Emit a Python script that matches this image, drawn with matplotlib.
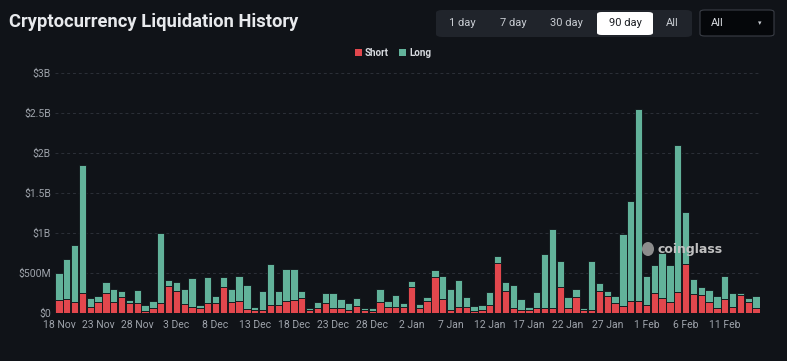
import matplotlib
matplotlib.use("Agg")
import matplotlib.pyplot as plt
from matplotlib.patches import FancyBboxPatch, Rectangle, Ellipse
import numpy as np

# ---- data (USD billions) ----
total = [0.50, 0.68, 0.855, 1.86, 0.19, 0.215, 0.39, 0.30, 0.28, 0.167,
         0.29, 0.11, 0.16, 1.00, 0.42, 0.39, 0.30, 0.44, 0.11, 0.45,
         0.22, 0.45, 0.31, 0.47, 0.35, 0.075, 0.28, 0.615, 0.275, 0.56,
         0.56, 0.28, 0.067, 0.14, 0.26, 0.26, 0.18, 0.133, 0.196, 0.07,
         0.0625, 0.30, 0.154, 0.23, 0.125, 0.40, 0.12, 0.20, 0.545, 0.467,
         0.30, 0.42, 0.21, 0.088, 0.105, 0.27, 0.715, 0.39, 0.35, 0.175,
         0.075, 0.27, 0.74, 1.05, 0.65, 0.20, 0.30, 0.07, 0.66, 0.375,
         0.283, 0.217, 0.99, 1.40, 2.55, 0.467, 0.60, 0.75, 0.60, 2.11,
         1.27, 0.425, 0.325, 0.29, 0.217, 0.467, 0.25, 0.26, 0.19, 0.22]
short = [0.167, 0.175, 0.14, 0.25, 0.075, 0.145, 0.26, 0.14, 0.20, 0.125,
         0.125, 0.033, 0.07, 0.125, 0.34, 0.28, 0.115, 0.08, 0.0625, 0.135,
         0.125, 0.325, 0.145, 0.155, 0.054, 0.04, 0.04, 0.104, 0.11, 0.156,
         0.167, 0.19, 0.04, 0.067, 0.125, 0.067, 0.07, 0.04, 0.092, 0.04,
         0.033, 0.14, 0.075, 0.075, 0.075, 0.33, 0.066, 0.154, 0.45, 0.18,
         0.04, 0.075, 0.075, 0.033, 0.04, 0.11, 0.625, 0.285, 0.068, 0.045,
         0.04, 0.0625, 0.0625, 0.0625, 0.333, 0.07, 0.20, 0.04, 0.04, 0.283,
         0.22, 0.133, 0.092, 0.15, 0.15, 0.11, 0.25, 0.196, 0.14, 0.27,
         0.62, 0.24, 0.23, 0.14, 0.07, 0.175, 0.075, 0.225, 0.146, 0.0625]
long_ = [t - s for t, s in zip(total, short)]
x_labels = ["18 Nov", "23 Nov", "28 Nov", "3 Dec", "8 Dec", "13 Dec", "18 Dec",
            "23 Dec", "28 Dec", "2 Jan", "7 Jan", "12 Jan", "17 Jan", "22 Jan",
            "27 Jan", "1 Feb", "6 Feb", "11 Feb"]
y_ticks = [0, 0.5, 1.0, 1.5, 2.0, 2.5, 3.0]
y_labels = ["$0", "$500M", "$1B", "$1.5B", "$2B", "$2.5B", "$3B"]

BG = "#101318"
RED = "#e2474d"
GREEN = "#62b29a"
TXT = "#9ea3ab"
NARROW = ["Liberation Sans Narrow", "Roboto", "DejaVu Sans"]

W, H = 787, 361
fig = plt.figure(figsize=(W / 100, H / 100), dpi=100, facecolor=BG)

def fx(px):
    return px / W

def fy(py):
    return 1 - py / H

# ---- main axes ----
left, right, top, bottom = 55, 760, 73.3, 313.3
ax = fig.add_axes([fx(left), fy(bottom), fx(right - left), (bottom - top) / H])
ax.set_facecolor(BG)
idx = np.arange(len(total))
ax.bar(idx, short, width=0.92, color=RED, edgecolor=BG, linewidth=0.6, zorder=3)
ax.bar(idx, long_, bottom=short, width=0.92, color=GREEN, edgecolor=BG,
       linewidth=0.6, zorder=3)
ax.set_xlim(-0.5, len(total) - 0.5)
ax.set_ylim(0, 3.0)
ax.set_yticks(y_ticks)
ax.set_yticklabels(y_labels, family=NARROW, fontsize=7.5)
ax.set_xticks(np.arange(0, len(total), 5)[:len(x_labels)])
ax.set_xticklabels(x_labels, family=NARROW, fontsize=7.5)
ax.tick_params(axis="both", length=0, colors=TXT)
ax.tick_params(axis="y", pad=3)
ax.tick_params(axis="x", pad=5)
ax.grid(axis="y", color="#2c3038", linestyle=(0, (3, 3)), linewidth=0.7, zorder=0)
for s in ax.spines.values():
    s.set_visible(False)

# ---- title ----
fig.text(fx(9), fy(22), "Cryptocurrency Liquidation History", color="#e8eaed",
         fontsize=13.2, fontweight="bold", family=NARROW, va="center", ha="left")

# ---- button group ----
fig.patches.append(FancyBboxPatch((fx(436), fy(37)), fx(256), (27) / H,
                                  boxstyle="round,pad=0,rounding_size=0.008",
                                  transform=fig.transFigure, facecolor="#20242b",
                                  edgecolor="none"))
fig.patches.append(FancyBboxPatch((fx(597), fy(35)), fx(56), (23) / H,
                                  boxstyle="round,pad=0,rounding_size=0.006",
                                  transform=fig.transFigure, facecolor="#ffffff",
                                  edgecolor="none"))
for label, cx, col in [("1 day", 462, "#c8ccd2"), ("7 day", 513, "#c8ccd2"),
                       ("30 day", 566, "#c8ccd2"), ("90 day", 625, "#1a1d22"),
                       ("All", 672, "#c8ccd2")]:
    fig.text(fx(cx), fy(23.5), label, color=col, fontsize=8, family=NARROW,
             ha="center", va="center")

# dropdown
fig.patches.append(FancyBboxPatch((fx(700), fy(36)), fx(74), (26) / H,
                                  boxstyle="round,pad=0,rounding_size=0.006",
                                  transform=fig.transFigure, facecolor="#05070a",
                                  edgecolor="#3a3e46", linewidth=0.8))
fig.text(fx(711), fy(23), "All", color="#d8dbe0", fontsize=8, family=NARROW,
         ha="left", va="center")
fig.text(fx(760), fy(23.5), "\u25BE", color="#c8ccd2", fontsize=5, ha="center", va="center")

# ---- legend ----
fig.patches.append(Rectangle((fx(355), fy(56)), fx(7), 7 / H, transform=fig.transFigure,
                             facecolor=RED, edgecolor="none"))
fig.text(fx(365), fy(52.5), "Short", color="#d8dbe0", fontsize=7, fontweight="bold",
         family=NARROW, ha="left", va="center")
fig.patches.append(Rectangle((fx(399), fy(56)), fx(7), 7 / H, transform=fig.transFigure,
                             facecolor=GREEN, edgecolor="none"))
fig.text(fx(409), fy(52.5), "Long", color="#d8dbe0", fontsize=7, fontweight="bold",
         family=NARROW, ha="left", va="center")

# ---- watermark ----
fig.patches.append(Ellipse((fx(648), fy(249)), fx(12), 14 / H, transform=fig.transFigure,
                           facecolor="#9a9a9a", edgecolor="none", alpha=0.9, zorder=10))
fig.text(fx(658), fy(249), "coinglass", color="#c0c0c0", fontsize=9, fontweight="bold",
         ha="left", va="center", zorder=10)

fig.savefig("out.png", dpi=100, facecolor=BG)
